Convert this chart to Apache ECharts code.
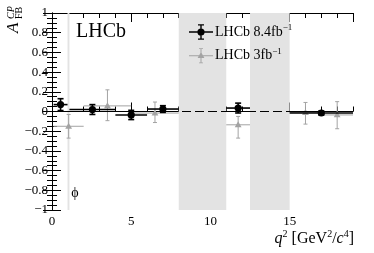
<!DOCTYPE html>
<html><head><meta charset="utf-8">
<script src="https://cdn.jsdelivr.net/npm/echarts@6/dist/echarts.min.js"></script>
<style>html,body{margin:0;padding:0;background:#fff}#c{width:374px;height:253px}</style>
</head><body><div id="c"></div>
<script>
// ---- data ----
const xTicks = [0, 5, 10, 15];
const yTicks = [-1, -0.8, -0.6, -0.4, -0.2, 0, 0.2, 0.4, 0.6, 0.8, 1];
const vetoLo = [0.98, 8.0, 12.5];
const vetoHi = [1.1, 11.0, 15.0];
const vetoLabels = ['ϕ', 'J/ψ', 'ψ(2S)'];

const newBinLo = [0.1, 1.1, 4.0, 6.0, 11.0, 15.0];
const newBinHi = [0.98, 4.0, 6.0, 8.0, 12.5, 19.0];
const newCenter = [0.54, 2.55, 5.0, 7.0, 11.75, 17.0];
const newValue = [0.07, 0.02, -0.035, 0.025, 0.035, -0.015];
const newErrLo = [0.06, 0.05, 0.047, 0.034, 0.05, 0.02];
const newErrHi = [0.06, 0.05, 0.047, 0.034, 0.05, 0.02];

const oldBinLo = [0.1, 2.0, 5.0, 11.0, 15.0, 17.0];
const oldBinHi = [2.0, 5.0, 8.0, 12.5, 17.0, 19.0];
const oldCenter = [1.05, 3.5, 6.5, 11.75, 16.0, 18.0];
const oldValue = [-0.15, 0.057, -0.016, -0.135, -0.01, -0.035];
const oldErrLo = [0.12, 0.15, 0.096, 0.135, 0.118, 0.14];
const oldErrHi = [0.12, 0.163, 0.112, 0.085, 0.102, 0.135];

const NAME_NEW = 'LHCb 8.4fb-1';
const NAME_OLD = 'LHCb 3fb-1';

const FONT = 'Liberation Serif';
const chart = echarts.init(document.getElementById('c'));

function mk(center, value, lo, hi, el, eh) {
  return center.map((c, i) => [c, value[i], lo[i], hi[i], el[i], eh[i]]);
}
function errRender(color, lw, capW, marker) {
  return function (params, api) {
    const x = api.value(0), y = api.value(1);
    const c = api.coord([x, y]);
    const l = api.coord([api.value(2), y]);
    const r = api.coord([api.value(3), y]);
    const t = api.coord([x, y + api.value(5)]);
    const b = api.coord([x, y - api.value(4)]);
    const st = { stroke: color, lineWidth: lw };
    const ch = [
      { type: 'line', shape: { x1: l[0], y1: c[1], x2: r[0], y2: c[1] }, style: st },
      { type: 'line', shape: { x1: c[0], y1: t[1], x2: c[0], y2: b[1] }, style: st },
      { type: 'line', shape: { x1: c[0] - capW, y1: t[1], x2: c[0] + capW, y2: t[1] }, style: st },
      { type: 'line', shape: { x1: c[0] - capW, y1: b[1], x2: c[0] + capW, y2: b[1] }, style: st }
    ];
    if (marker === 'circle') {
      ch.push({ type: 'circle', shape: { cx: c[0], cy: c[1], r: 3.6 }, style: { fill: color } });
    } else {
      ch.push({ type: 'polygon', shape: { points: [[c[0], c[1] - 3.6], [c[0] - 3.4, c[1] + 2.4], [c[0] + 3.4, c[1] + 2.4]] }, style: { fill: color } });
    }
    return { type: 'group', children: ch };
  };
}

const axisLbl = { fontFamily: FONT, fontSize: 13, color: '#000' };
const lineBlack = { show: true, lineStyle: { color: '#000', width: 1 } };

const option = {
  animation: false,
  grid: { left: 52, right: 21, top: 13, bottom: 43 },
  legend: {
    orient: 'vertical', left: 184, top: 18, itemWidth: 24, itemHeight: 16, itemGap: 7,
    data: [
      { name: NAME_NEW, icon: 'path://M0,7.3H24V8.7H0Z M11.3,0.5H12.7V15.5H11.3Z M9,0.3H15V1.5H9Z M9,14.5H15V15.7H9Z M12,4.4A3.6,3.6 0 1 1 11.99,4.4Z' },
      { name: NAME_OLD, icon: 'path://M0,7.5H24V8.5H0Z M11.5,0.5H12.5V15.5H11.5Z M10,0.5H14V1.3H10Z M10,14.7H14V15.5H10Z M12,4.4L15.4,10.4H8.6Z' }
    ],
    formatter: n => n === NAME_NEW ? '{t|LHCb 8.4fb}{s|−1}' : '{t|LHCb 3fb}{s|−1}',
    textStyle: {
      fontFamily: FONT, color: '#000', padding: [0, 0, 0, -3],
      rich: { t: { fontFamily: FONT, fontSize: 14, color: '#000' }, s: { fontFamily: FONT, fontSize: 9, color: '#000', verticalAlign: 'top', lineHeight: 18 } }
    }
  },
  xAxis: [
    { type: 'value', min: 0, max: 19, interval: 5, position: 'bottom',
      axisLine: lineBlack, splitLine: { show: false },
      axisTick: { inside: true, length: 9, lineStyle: { color: '#000' } },
      axisLabel: { ...axisLbl, margin: 5, showMaxLabel: false, formatter: v => xTicks.includes(v) ? String(v) : '' } },
    { type: 'value', min: 0, max: 19, interval: 1, position: 'bottom',
      axisLine: { show: false }, splitLine: { show: false },
      axisTick: { inside: true, length: 5, lineStyle: { color: '#000' } }, axisLabel: { show: false } },
    { type: 'value', min: 0, max: 19, interval: 5, position: 'top',
      axisLine: lineBlack, splitLine: { show: false },
      axisTick: { inside: true, length: 9, lineStyle: { color: '#000' } }, axisLabel: { show: false } },
    { type: 'value', min: 0, max: 19, interval: 1, position: 'top',
      axisLine: { show: false }, splitLine: { show: false },
      axisTick: { inside: true, length: 5, lineStyle: { color: '#000' } }, axisLabel: { show: false } }
  ],
  yAxis: [
    { type: 'value', min: -1, max: 1, interval: 0.2, position: 'left',
      axisLine: lineBlack, splitLine: { show: false },
      axisTick: { inside: true, length: 9, lineStyle: { color: '#000' } },
      minorTick: { show: true, splitNumber: 4, length: 5, lineStyle: { color: '#000' } },
      minorSplitLine: { show: false },
      axisLabel: { ...axisLbl, margin: 4, formatter: v => {
        const t = yTicks.find(k => Math.abs(k - v) < 1e-6);
        return t === undefined ? '' : String(t).replace('-', '−');
      } } },
    { type: 'value', min: -1, max: 1, interval: 0.2, position: 'right',
      axisLine: lineBlack, splitLine: { show: false },
      axisTick: { inside: true, length: 9, lineStyle: { color: '#000' } },
      minorTick: { show: true, splitNumber: 4, length: 5, lineStyle: { color: '#000' } },
      axisLabel: { show: false } }
  ],
  series: [
    { type: 'custom', name: 'veto', silent: true, z: 1,
      data: vetoLo.map((l, i) => [l, vetoHi[i]]),
      renderItem: (p, api) => {
        const a = api.coord([api.value(0), 1]);
        const b = api.coord([api.value(1), -1]);
        return { type: 'rect', shape: { x: a[0], y: a[1], width: b[0] - a[0], height: b[1] - a[1] }, style: { fill: '#e3e3e3' } };
      },
      markLine: {
        silent: true, symbol: 'none', label: { show: false },
        lineStyle: { color: '#000', type: [9, 4], width: 1.2 },
        data: [{ yAxis: 0 }]
      }
    },
    { type: 'custom', name: NAME_OLD, z: 3, itemStyle: { color: '#a3a3a3' },
      encode: { x: 0, y: 1 },
      data: mk(oldCenter, oldValue, oldBinLo, oldBinHi, oldErrLo, oldErrHi),
      renderItem: errRender('#a3a3a3', 1, 2, 'triangle') },
    { type: 'custom', name: NAME_NEW, z: 4, itemStyle: { color: '#000' },
      encode: { x: 0, y: 1 },
      data: mk(newCenter, newValue, newBinLo, newBinHi, newErrLo, newErrHi),
      renderItem: errRender('#000', 1.6, 3, 'circle') }
  ],
  graphic: [
    { type: 'text', left: 76, top: 22, style: { text: 'LHCb', font: '20px "Liberation Serif"', fill: '#000' } },
    { type: 'text', x: 75, y: 193, style: { text: vetoLabels[0], font: '14px "Liberation Serif"', fill: '#000', align: 'center', verticalAlign: 'middle' } },
    { type: 'text', x: 204, y: 193, style: { text: '{i|J}{n|/ψ}', align: 'center', verticalAlign: 'middle',
        rich: { i: { font: 'italic 14px "Liberation Serif"', fill: '#000' }, n: { font: '14px "Liberation Serif"', fill: '#000' } } } },
    { type: 'text', x: 270, y: 193, style: { text: vetoLabels[2], font: '14px "Liberation Serif"', fill: '#000', align: 'center', verticalAlign: 'middle' } },
    { type: 'text', x: 354, y: 239, style: { text: '{i|q}{s|2}{n| [GeV}{s|2}{n|/}{i|c}{s|4}{n|]}', align: 'right', verticalAlign: 'middle',
        rich: { i: { font: 'italic 16px "Liberation Serif"', fill: '#000' },
                n: { font: '16px "Liberation Serif"', fill: '#000' },
                s: { font: '10px "Liberation Serif"', fill: '#000', verticalAlign: 'top', lineHeight: 20 } } } },
    { type: 'text', x: 14, y: 33, rotation: Math.PI / 2, style: { text: 'A', font: 'italic 17px "Liberation Serif"', fill: '#000', align: 'left', verticalAlign: 'middle' } },
    { type: 'text', x: 11, y: 19, rotation: Math.PI / 2, style: { text: 'CP', font: 'italic 10px "Liberation Serif"', fill: '#000', align: 'left', verticalAlign: 'middle' } },
    { type: 'text', x: 19.5, y: 19, rotation: Math.PI / 2, style: { text: 'FB', font: '10px "Liberation Serif"', fill: '#000', align: 'left', verticalAlign: 'middle' } }
  ]
};
chart.setOption(option);
</script></body></html>
